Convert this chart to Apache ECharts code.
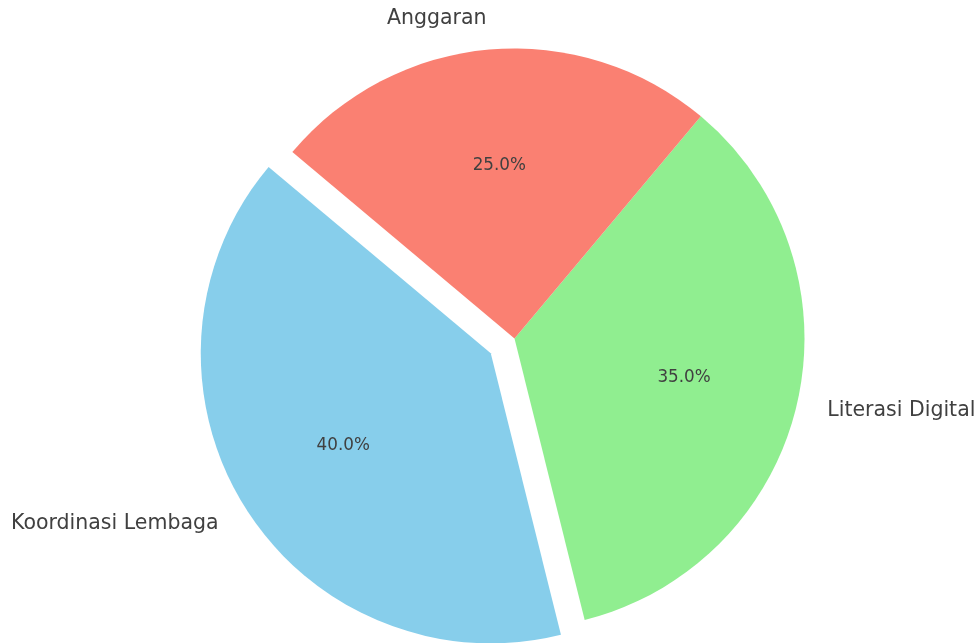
<!DOCTYPE html>
<html>
<head>
<meta charset="utf-8">
<script src="https://cdn.jsdelivr.net/npm/echarts@6/dist/echarts.min.js"></script>
<style>
html,body{margin:0;padding:0;background:#fff;}
#chart{width:977px;height:643px;}
</style>
</head>
<body>
<div id="chart"></div>
<script>
const categories = ['Koordinasi Lembaga', 'Literasi Digital', 'Anggaran'];
const values = [40, 35, 25];
const colors = ['#87CEEB', '#90EE90', '#FA8072'];
const explodedIndex = 0;

const CX = 514.5, CY = 338.5, R = 290, OFFSET = 28;
const textColor = '#404040';
const font = 'DejaVu Sans';

const total = values.reduce((a, b) => a + b, 0);

const mainData = categories.map((name, i) => ({
  name: name,
  value: values[i],
  selected: i === explodedIndex,
  itemStyle: { color: colors[i] }
}));
const pctData = categories.map((name, i) => ({
  name: name,
  value: values[i],
  selected: i === explodedIndex
}));

const chart = echarts.init(document.getElementById('chart'), null, { renderer: 'canvas' });
chart.setOption({
  backgroundColor: '#ffffff',
  animation: false,
  series: [
    {
      type: 'pie',
      center: [CX, CY],
      radius: [0, R],
      startAngle: 140,
      clockwise: false,
      selectedMode: 'single',
      selectedOffset: OFFSET,
      avoidLabelOverlap: false,
      silent: true,
      minAngle: 0,
      itemStyle: { borderWidth: 0 },
      label: {
        show: true,
        position: 'outside',
        formatter: '{b}',
        color: textColor,
        fontFamily: font,
        fontSize: 20.5,
        padding: [3, 0, 0, 0],
        distanceToLabelLine: 0
      },
      labelLine: { show: false, length: 31, length2: 0 },
      emphasis: { disabled: true },
      data: mainData
    },
    {
      type: 'pie',
      center: [CX, CY],
      radius: [52, R],
      startAngle: 140,
      clockwise: false,
      selectedMode: 'single',
      selectedOffset: OFFSET,
      avoidLabelOverlap: false,
      silent: true,
      itemStyle: { color: 'rgba(0,0,0,0)', borderWidth: 0 },
      label: {
        show: true,
        position: 'inside',
        formatter: p => (p.value / total * 100).toFixed(1) + '%',
        color: textColor,
        fontFamily: font,
        fontSize: 16.8,
        padding: [3, 0, 0, 0]
      },
      labelLine: { show: false },
      emphasis: { disabled: true },
      data: pctData
    }
  ]
});
</script>
</body>
</html>
